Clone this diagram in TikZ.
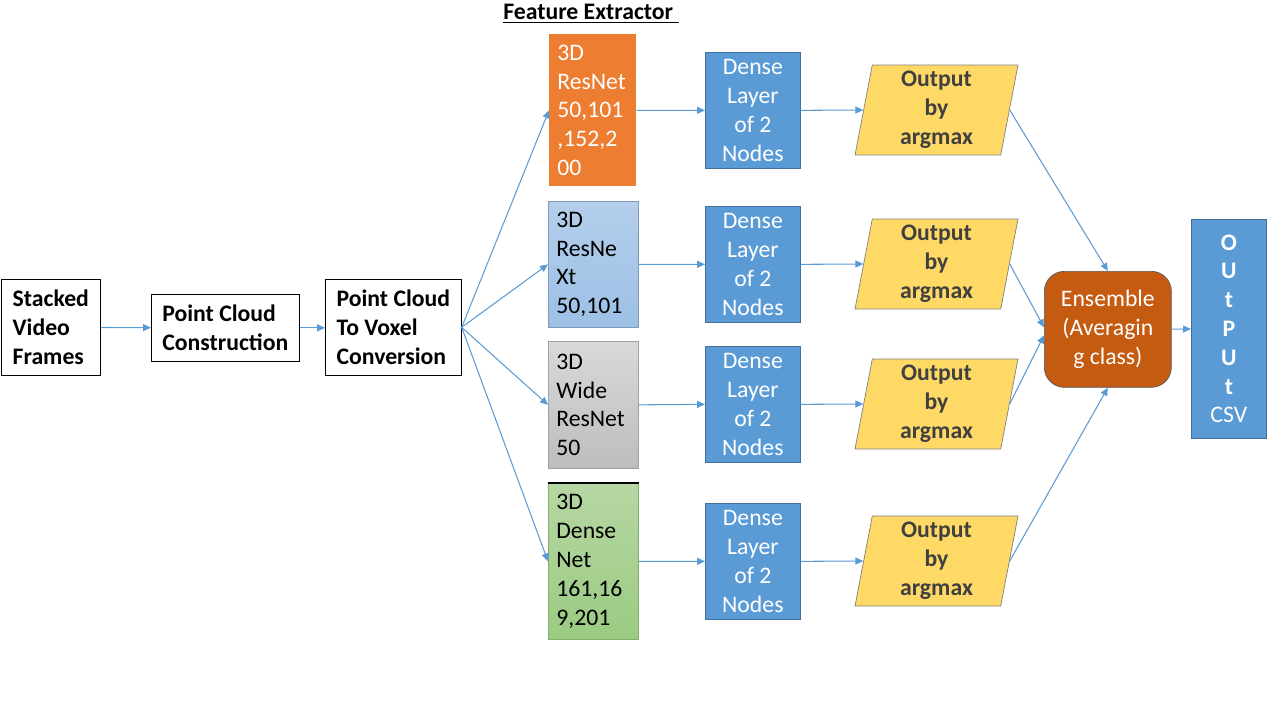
\documentclass[tikz,border=0pt]{standalone}
\usepackage{fontspec}
\setmainfont{Carlito}
\usepackage{tikz}
\usetikzlibrary{calc, shapes.geometric, arrows.meta}

\definecolor{arrowblue}{HTML}{5B9BD5}
\definecolor{denseblue}{HTML}{5B9BD5}
\definecolor{denseborder}{HTML}{41719C}
\definecolor{resorange}{HTML}{ED7D31}
\definecolor{nextop}{HTML}{B4CEEB}
\definecolor{nexbottom}{HTML}{9DC0E6}
\definecolor{widetop}{HTML}{D9D9D9}
\definecolor{widebottom}{HTML}{BDBDBD}
\definecolor{densenettop}{HTML}{B6D7A3}
\definecolor{densenetbottom}{HTML}{9BCB82}
\definecolor{argmaxyellow}{HTML}{FFD966}
\definecolor{argmaxtext}{HTML}{404040}
\definecolor{ensembleorange}{HTML}{C55A11}

\tikzset{
    every node/.style = {font = \fontsize{13.5}{16.4}\selectfont},
    plainbox/.style = {draw = black, fill = white, align = left, inner xsep = 0.18cm, anchor = north west, font = \fontsize{13.5}{16.4}\selectfont\bfseries},
    extractorbox/.style = {align = left, inner xsep = 0.16cm, anchor = north west},
    densebox/.style = {draw = denseborder, fill = denseblue, text = white, align = center, anchor = north west, minimum width = 1.9cm, minimum height = 2.32cm},
    argmaxbox/.style = {trapezium, trapezium left angle = 79, trapezium right angle = 101, trapezium stretches body, draw = gray, fill = argmaxyellow, text = argmaxtext, align = center, minimum width = 3.26cm, minimum height = 1.8cm, font = \fontsize{13.5}{16.4}\selectfont\bfseries},
    flow/.style = {draw = arrowblue, line width = 0.6pt, -{Triangle[length = 4.5pt, width = 4pt]}}
}

\begin{document}
\begin{tikzpicture}[x = 0.02cm, y = -0.02cm]
            \useasboundingbox (0, 0) rectangle (1280, 720);

            \node[plainbox, minimum width = 1.98cm, minimum height = 1.92cm] (frames) at (1, 279) {Stacked\\Video\\Frames};
            \node[plainbox, minimum width = 2.96cm, minimum height = 1.34cm] (construction) at (151, 294) {Point Cloud\\Construction};
            \node[plainbox, minimum width = 2.72cm, minimum height = 1.92cm] (voxel) at (325, 279) {Point Cloud\\To Voxel\\Conversion};

            \node[font = \fontsize{13.5}{16.4}\selectfont\bfseries, anchor = south west, inner sep = 0pt] (title) at (503, 24) {\underline{Feature Extractor\ }};

            \node[extractorbox, fill = resorange, text = white, text width = 1.42cm, minimum height = 3.04cm] (resnet) at (549, 34) {3D\\ResNet\\50,101\\,152,2\\00};
            \node[extractorbox, draw = nexbottom!80!black, top color = nextop, bottom color = nexbottom, text width = 1.48cm, minimum height = 2.52cm] (resnext) at (548, 201) {3D\\ResNe\\Xt\\50,101};
            \node[extractorbox, draw = widebottom!85!black, top color = widetop, bottom color = widebottom, text width = 1.48cm, minimum height = 2.54cm] (wide) at (548, 341) {3D\\Wide\\ResNet\\50};
            \node[extractorbox, draw = densenetbottom!85!black, top color = densenettop, bottom color = densenetbottom, text width = 1.48cm, minimum height = 3.12cm] (densenet) at (548, 483) {3D\\Dense\\Net\\161,16\\9,201};
            \draw[black, line width = 0.8pt] (densenet.north west) -- (densenet.north east);

            \node[densebox] (dense1) at (705, 52) {Dense\\Layer\\of 2\\Nodes};
            \node[densebox] (dense2) at (705, 206) {Dense\\Layer\\of 2\\Nodes};
            \node[densebox] (dense3) at (705, 346) {Dense\\Layer\\of 2\\Nodes};
            \node[densebox] (dense4) at (705, 503) {Dense\\Layer\\of 2\\Nodes};

            \node[argmaxbox] (argmax1) at (936.5, 110) {Output\\by\\argmax};
            \node[argmaxbox] (argmax2) at (936.5, 264) {Output\\by\\argmax};
            \node[argmaxbox] (argmax3) at (936.5, 404) {Output\\by\\argmax};
            \node[argmaxbox] (argmax4) at (936.5, 561) {Output\\by\\argmax};

            \node[draw = gray!70!black, fill = ensembleorange, text = white, rounded corners = 0.4cm, align = center, anchor = north west, minimum width = 2.54cm, minimum height = 2.32cm] (ensemble) at (1044, 271) {Ensemble\\(Averagin\\g class)};
            \node[draw = denseborder, fill = denseblue, text = white, align = center, anchor = north west, minimum width = 1.5cm, minimum height = 4.38cm] (csv) at (1191, 219) {\textbf{O}\\\textbf{U}\\\textbf{t}\\\textbf{P}\\\textbf{U}\\\textbf{t}\\CSV};

            \draw[flow] (frames) -- (construction);
            \draw[flow] (construction) -- (construction -| voxel.west);
            \draw[flow] (voxel.east) -- (resnet.west);
            \draw[flow] (voxel.east) -- (resnext.west);
            \draw[flow] (voxel.east) -- (wide.west);
            \draw[flow] (voxel.east) -- (densenet.west);

            \draw[flow] (resnet.east) -- (dense1.west);
            \draw[flow] (resnext.east) -- (dense2.west);
            \draw[flow] (wide.east) -- (dense3.west);
            \draw[flow] (densenet.east) -- (dense4.west);

            \draw[flow] (dense1.east) -- (argmax1.west);
            \draw[flow] (dense2.east) -- (argmax2.west);
            \draw[flow] (dense3.east) -- (argmax3.west);
            \draw[flow] (dense4.east) -- (argmax4.west);

            \draw[flow] (argmax1.east) -- (ensemble.north);
            \draw[flow] (argmax2.east) -- ($(ensemble.west) + (0, -2)$);
            \draw[flow] (argmax3.east) -- ($(ensemble.west) + (0, 6)$);
            \draw[flow] (argmax4.east) -- (ensemble.south);

            \draw[flow] (ensemble) -- (csv);
\end{tikzpicture}
\end{document}
